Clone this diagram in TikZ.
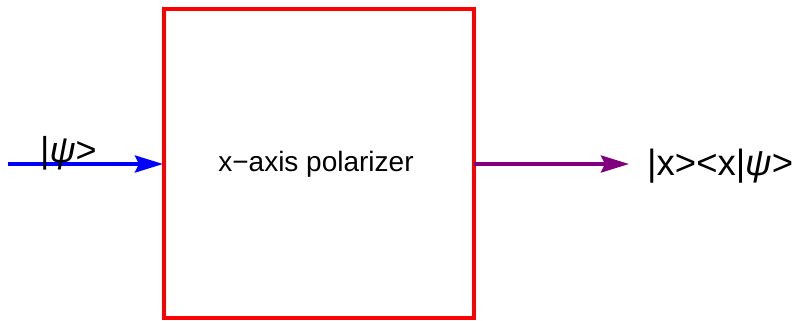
\documentclass[tikz,border=0pt]{standalone}
\usepackage{fontspec}
\setmainfont{Liberation Sans}
\usetikzlibrary{arrows.meta}
\definecolor{polred}{RGB}{255,0,0}
\definecolor{inblue}{RGB}{0,0,255}
\definecolor{outpurple}{RGB}{128,0,128}
\begin{document}
\begin{tikzpicture}[x=1bp,y=-1bp,
  polbox/.style={draw=polred,line width=4bp},
  beam/.style={line width=3.5bp,-{Stealth[length=28bp,width=17bp,inset=4bp]}},
  lbl/.style={inner sep=0pt,font=\fontsize{36bp}{40bp}\selectfont}]
\useasboundingbox (0,0) rectangle (796,320);
% polarizer box
\draw[polbox] (164,9) rectangle (474,318);
\node[inner sep=0pt,font=\fontsize{28bp}{32bp}\selectfont] (pol) at (316,164) {x−axis polarizer};
\coordinate (inL) at (164,164);
\coordinate (outR) at (474,164);
\coordinate (src) at (8,164);
\coordinate (dst) at (629,164);
% incoming and outgoing beams
\draw[beam,inblue] (src) -- ([xshift=-1bp]inL);
\draw[beam,outpurple] (outR) -- (dst);
% state labels
\node[lbl,anchor=west] (psi) at (40,153) {|\textit{ψ}>};
\node[lbl,anchor=west,font=\fontsize{36.5bp}{42bp}\selectfont] (proj) at (647,166) {|x><x|\textit{ψ}>};
\end{tikzpicture}
\end{document}
